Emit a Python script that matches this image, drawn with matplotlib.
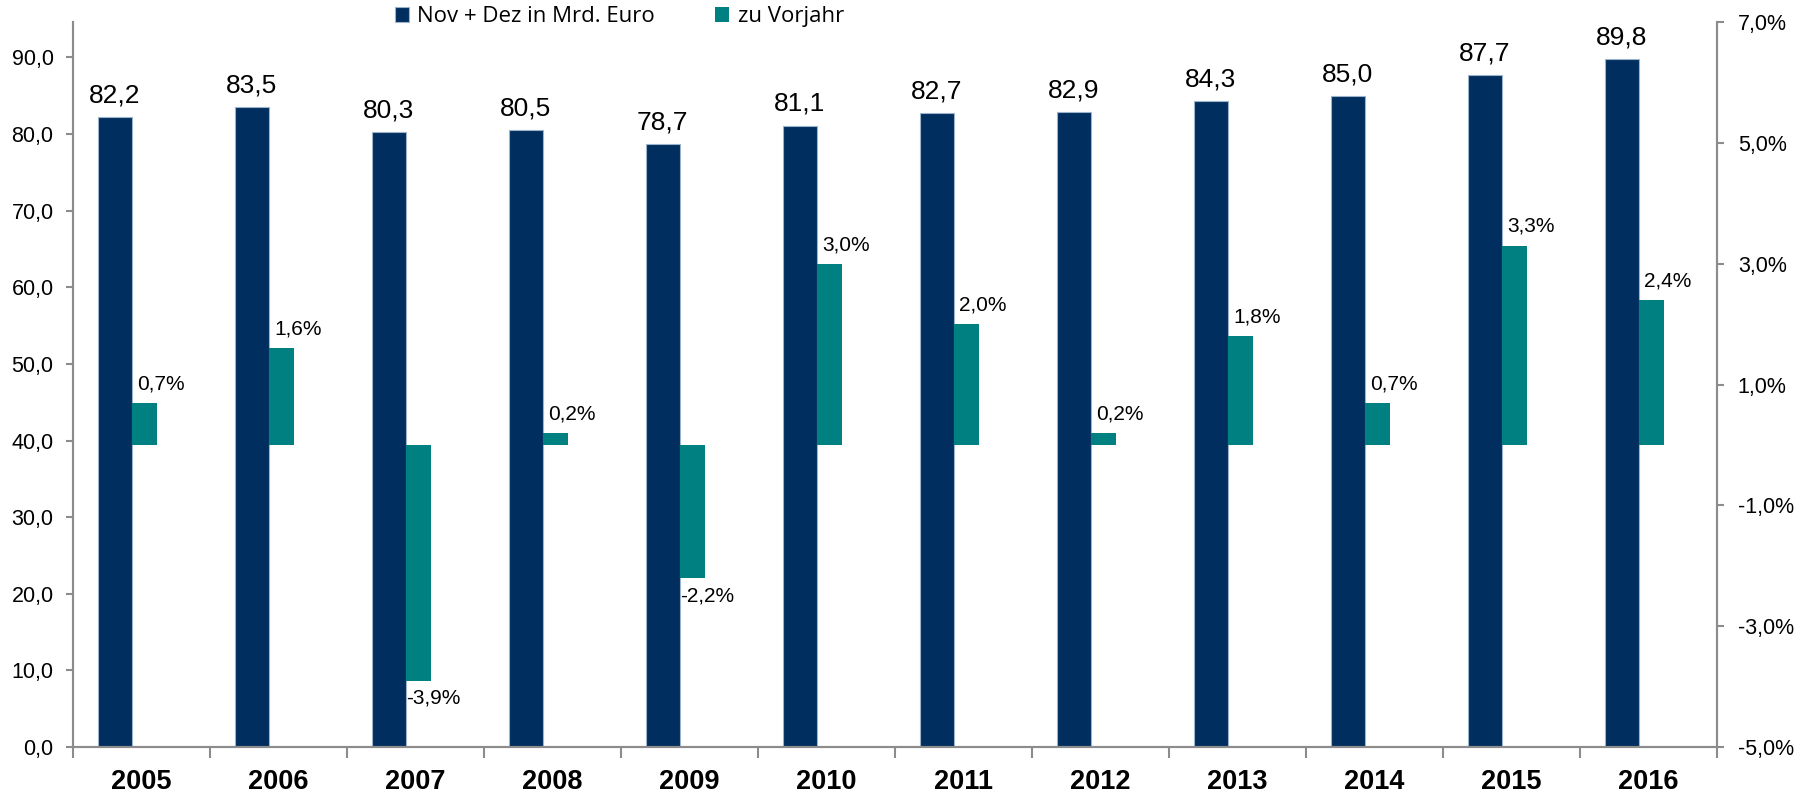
import numpy as np
from matplotlib import pyplot as plt

years = ["2005", "2006", "2007", "2008", "2009", "2010",
         "2011", "2012", "2013", "2014", "2015", "2016"]
umsatz = [82.2, 83.5, 80.3, 80.5, 78.7, 81.1, 82.7, 82.9, 84.3, 85.0, 87.7, 89.8]
vorjahr = [0.7, 1.6, -3.9, 0.2, -2.2, 3.0, 2.0, 0.2, 1.8, 0.7, 3.3, 2.4]

navy = "#002F5F"
teal = "#008080"
grey = "#8C8C8C"

plt.rcParams['font.family'] = ['Liberation Sans', 'DejaVu Sans']

fig = plt.figure(figsize=(18.06, 7.94), dpi=100)
ax = fig.add_axes([0.0404, 0.0592, 0.9103, 0.9128])
ax2 = ax.twinx()

x = np.arange(len(years))
w_navy = 0.25
w_teal = 0.18
edge = -0.07  # where navy bar ends and teal bar starts

ax.bar(x + edge - w_navy / 2, umsatz, width=w_navy, color=navy,
       edgecolor="#9DB3CC", linewidth=0.8, label="Nov + Dez in Mrd. Euro")
ax2.bar(x + edge + w_teal / 2, vorjahr, width=w_teal, color=teal,
        label="zu Vorjahr")

def fmt(v, dec=1):
    return f"{v:.{dec}f}".replace(".", ",")

for xi, v in zip(x, umsatz):
    ax.annotate(fmt(v), (xi + edge - w_navy / 2, v), xytext=(0, 7),
                textcoords="offset points", ha="center", va="bottom",
                fontsize=19)

for xi, v in zip(x, vorjahr):
    if v >= 0:
        ax2.annotate(fmt(v) + "%", (xi + edge, v), xytext=(4, 7),
                     textcoords="offset points", ha="left", va="bottom",
                     fontsize=15)
    else:
        ax2.annotate(fmt(v) + "%", (xi + edge, v), xytext=(0, -6),
                     textcoords="offset points", ha="left", va="top",
                     fontsize=15)

ax.set_xlim(-0.5, len(years) - 0.5)
ax.set_ylim(0, 94.6)
ax2.set_ylim(-5, 7)

ax.set_yticks(np.arange(0, 91, 10))
ax.set_yticklabels([fmt(v) for v in np.arange(0, 91, 10)], fontsize=15.5)
ax2.set_yticks(np.arange(-5, 8, 2))
ax2.set_yticklabels([fmt(v) + "%" for v in np.arange(-5, 8, 2)], fontsize=15.5)

ax.set_xticks(x)
ax.set_xticklabels(years, fontsize=19.5, fontweight="bold")
ax.set_xticks(np.arange(-0.5, len(years), 1), minor=True)
ax.tick_params(axis="x", which="major", length=0, pad=16)
ax.tick_params(axis="x", which="minor", length=8, color=grey, width=1.5)
ax.tick_params(axis="y", length=5, color=grey, width=1.5, pad=9)
ax2.tick_params(axis="y", length=5, color=grey, width=1.5, pad=10)

for a in (ax, ax2):
    a.spines["top"].set_visible(False)
    for s in ("left", "right", "bottom"):
        a.spines[s].set_color(grey)
        a.spines[s].set_linewidth(1.5)

h1, l1 = ax.get_legend_handles_labels()
h2, l2 = ax2.get_legend_handles_labels()
fig.legend(h1 + h2, l1 + l2, loc="center", bbox_to_anchor=(0.343, 0.979),
           ncol=2, frameon=False, prop={"family": "Open Sans", "size": 16},
           handlelength=0.62, handleheight=0.62, handletextpad=0.4,
           columnspacing=2.7, borderaxespad=0)

fig.savefig("out.png", dpi=100)
